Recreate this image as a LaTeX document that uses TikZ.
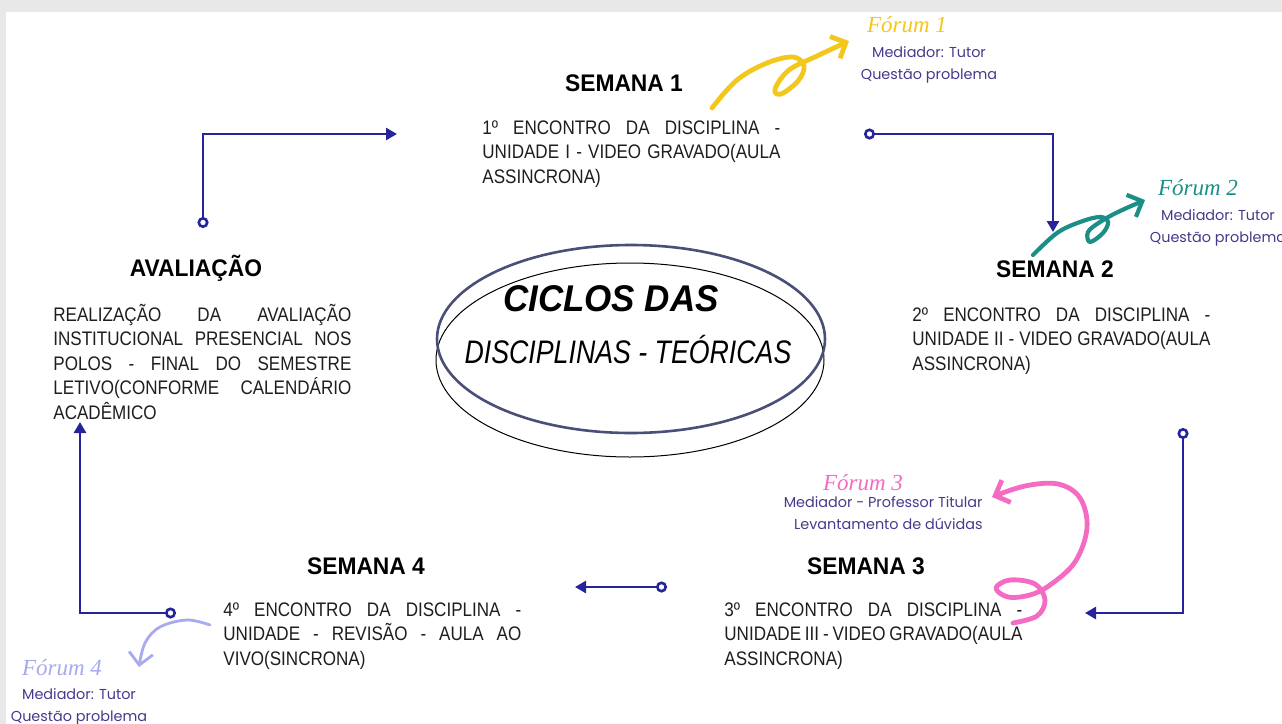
\documentclass[tikz,border=0pt]{standalone}
\usepackage{fontspec}
\usetikzlibrary{arrows.meta}
\setmainfont{Liberation Sans}
\newfontfamily\txtfont{Liberation Sans}[FakeStretch=0.87]
\newfontfamily\hdfont{Liberation Sans}[FakeStretch=0.95]
\newfontfamily\ttlfont{Liberation Sans}[FakeStretch=0.94]
\newfontfamily\subttlfont{Liberation Sans}[FakeStretch=0.82]
\newfontfamily\fmfont{Poppins}
\newfontfamily\handfont{Liberation Serif}

\definecolor{framegray}{HTML}{E8E8E8}
\definecolor{textgray}{HTML}{1E1E1E}
\definecolor{linknavy}{HTML}{25249A}
\definecolor{ovalblue}{HTML}{4A4F78}
\definecolor{forumyellow}{HTML}{F3C71C}
\definecolor{forumteal}{HTML}{1B8F87}
\definecolor{forumpink}{HTML}{F36BC3}
\definecolor{forumlav}{HTML}{A8A9EE}
\definecolor{mediadorpurple}{HTML}{48398B}

% one justified line of a text block
\newcommand{\jline}[1]{\makebox[149pt][s]{#1}}

\begin{document}
\begin{tikzpicture}[x=0.5pt, y=-0.5pt,
	heading/.style={font=\hdfont\bfseries\fontsize{12}{14}\selectfont, text=black, inner sep=0pt, anchor=base},
	bodytext/.style={font=\txtfont\fontsize{9.8}{12.2}\selectfont, text=textgray, inner sep=0pt, align=left, anchor=base west},
	link/.style={line width=1.3pt, linknavy, {Circle[open,length=5.5pt,width=5.5pt]}-{Triangle[length=5.5pt,width=6pt]}},
	forumarrow/.style={line width=2.4pt, line cap=round, line join=round, -{Straight Barb[length=6pt,width=12pt]}},
	forumtitle/.style={font=\handfont\itshape\fontsize{11.5}{14}\selectfont, inner sep=0pt, anchor=base},
	forumtext/.style={font=\fmfont\fontsize{7.2}{11}\selectfont, text=mediadorpurple, inner sep=0pt, align=center, anchor=base}]
	\useasboundingbox (0,0) rectangle (1282,724);
	\clip (0,0) rectangle (1282,724);
	\fill[framegray] (0,0) rectangle (1282,724); % frame
	\fill[white] (6,12) rectangle (1282,724); % page

	% centre
	\draw[black, line width=0.5pt] (630,360) ellipse [x radius=194, y radius=97];
	\draw[ovalblue, line width=1.3pt] (631,339) ellipse [x radius=194, y radius=94];
	\node[font=\ttlfont\bfseries\itshape\fontsize{18.6}{22}\selectfont, inner sep=0pt, anchor=base] (title) at (611,311) {CICLOS DAS};
	\node[font=\subttlfont\itshape\fontsize{16.3}{20}\selectfont, inner sep=0pt, anchor=base] (subtitle) at (628,363) {DISCIPLINAS - TEÓRICAS};

	% weeks (text blocks sit on their last line)
	\node[heading] (s1head) at (624,91) {SEMANA 1};
	\node[bodytext] (s1text) at (482,183) {\jline{1º ENCONTRO DA DISCIPLINA -}\\\jline{UNIDADE I - VIDEO GRAVADO(AULA}\\ASSINCRONA)};
	\node[heading] (s2head) at (1055,277) {SEMANA 2};
	\node[bodytext] (s2text) at (912,370) {\jline{2º ENCONTRO DA DISCIPLINA -}\\\jline{UNIDADE II - VIDEO GRAVADO(AULA}\\ASSINCRONA)};
	\node[heading] (s3head) at (866,574) {SEMANA 3};
	\node[bodytext] (s3text) at (724,665) {\jline{3º ENCONTRO DA DISCIPLINA -}\\\jline{UNIDADE III - VIDEO GRAVADO(AULA}\\ASSINCRONA)};
	\node[heading] (s4head) at (366,574) {SEMANA 4};
	\node[bodytext] (s4text) at (223,665) {\jline{4º ENCONTRO DA DISCIPLINA -}\\\jline{UNIDADE - REVISÃO - AULA AO}\\VIVO(SINCRONA)};
	\node[heading] (avalhead) at (196,276) {AVALIAÇÃO};
	\node[bodytext] (avaltext) at (53,419) {\jline{REALIZAÇÃO DA AVALIAÇÃO}\\\jline{INSTITUCIONAL PRESENCIAL NOS}\\\jline{POLOS - FINAL DO SEMESTRE}\\\jline{LETIVO(CONFORME CALENDÁRIO}\\ACADÊMICO};

	% connector ends
	\coordinate (avalout) at (203,228);
	\coordinate (s1in) at (397,134);
	\coordinate (s1out) at (864,134);
	\coordinate (s2in) at (1053,232);
	\coordinate (s2out) at (1183,428);
	\coordinate (s3in) at (1085,613);
	\coordinate (s3out) at (667,587);
	\coordinate (s4in) at (575,587);
	\coordinate (s4out) at (176,613);
	\coordinate (avalin) at (80,422);
	\draw[link] (avalout) |- (s1in);
	\draw[link] (s1out) -| (s2in);
	\draw[link] (s2out) |- (s3in);
	\draw[link] (s3out) -- (s4in);
	\draw[link] (s4out) -| (avalin);

	% forum 1
	\draw[forumarrow, forumyellow] plot[smooth, tension=0.6] coordinates {(712,108) (737,80) (767,63) (793,57) (804,66) (798,81) (781,94) (775,89) (789,70) (817,56) (849,41)};
	\node[forumtitle, text=forumyellow] (f1title) at (907,32) {Fórum 1};
	\node[forumtext] (f1text) at (929,79) {Mediador: Tutor\\Questão problema};
	% forum 2
	\draw[forumarrow, forumteal, line width=2.1pt] plot[smooth, tension=0.6] coordinates {(1033,255) (1057,233) (1080,222) (1100,217) (1108,222) (1103,233) (1090,242) (1088,232) (1100,222) (1118,212) (1145,200)};
	\node[forumtitle, text=forumteal] (f2title) at (1198,195) {Fórum 2};
	\node[forumtext] (f2text) at (1218,242) {Mediador: Tutor\\Questão problema};
	% forum 3
	\draw[forumarrow, forumpink] plot[smooth, tension=0.6] coordinates {(1013,623) (1037,616) (1045,600) (1035,584) (1010,580) (996,588) (1008,597) (1030,595) (1050,585) (1075,562) (1087,528) (1080,498) (1058,484) (1025,486) (992,497)};
	\node[forumtitle, text=forumpink] (f3title) at (863,490) {Fórum 3};
	\node[forumtext, align=right, anchor=base east] (f3text) at (983,529) {Mediador - Professor Titular\\Levantamento de dúvidas};
	% forum 4
	\draw[forumarrow, forumlav, line width=1.4pt] plot[smooth, tension=0.6] coordinates {(210,625) (187,620) (160,627) (145,643) (139,667)};
	\node[forumtitle, text=forumlav] (f4title) at (62,675) {Fórum 4};
	\node[forumtext] (f4text) at (79,721) {Mediador: Tutor\\Questão problema};
\end{tikzpicture}
\end{document}
